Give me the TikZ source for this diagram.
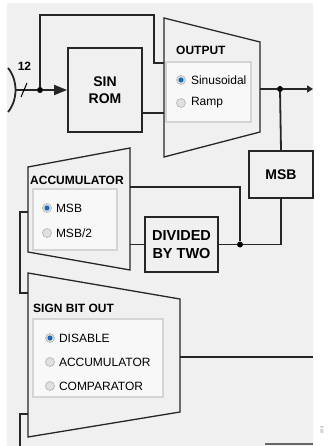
\documentclass[tikz,border=0pt]{standalone}
\usepackage{fontspec}
\setmainfont{Liberation Sans}
\usetikzlibrary{arrows.meta,positioning}
\definecolor{bggray}{RGB}{240,240,240}
\definecolor{panelfill}{RGB}{248,248,248}
\definecolor{paneledge}{RGB}{212,212,212}
\definecolor{radioblue}{RGB}{25,105,185}

\begin{document}
\begin{tikzpicture}[x=1pt,y=-1pt,
  font=\fontsize{12}{13}\selectfont,
  wire/.style={draw=black!85,line width=1.8pt},
  blk/.style={draw=black!85,line width=1.8pt,fill=bggray,align=center,inner sep=0pt,
              font=\bfseries\fontsize{14}{17}\selectfont},
  mux/.style={draw=black!85,line width=1.3pt,fill=bggray},
  panel/.style={draw=paneledge,line width=1.2pt,fill=panelfill},
  ttl/.style={anchor=west,inner sep=0pt,font=\bfseries\fontsize{12}{13}\selectfont},
  opt/.style={inner sep=0pt},
  radiooff/.style={circle,draw=black!30,line width=.6pt,fill=black!12,inner sep=0pt,minimum size=9pt},
  radioon/.style={radiooff,path picture={\fill[radioblue] (path picture bounding box.center) circle (2.6pt);}},
  dot/.style={circle,fill=black,inner sep=0pt,minimum size=6pt},
  arr/.style={wire,-{Triangle[length=13pt,width=10pt]}},
  oarr/.style={wire,-{Triangle[length=6pt,width=7pt]}}
]
\useasboundingbox (0,0) rectangle (328,446);
\fill[bggray] (7,3) rectangle (313,446);

\draw[wire] (8,68) .. controls (18,80) and (18,100) .. (8,112);
\coordinate (sum) at (16,90);
\node[blk,minimum width=74pt,minimum height=84pt] (rom) at (105,90) {SIN\\ROM};
\node[dot] (tap) at (40,90) {};
\draw[wire] (sum) -- (tap);
\draw[arr] (tap) -- (rom.west);
\draw[line width=1pt] (21,97) -- (27,83);
\node[font=\bfseries\fontsize{12}{12}\selectfont] (bw) at (24.5,66) {12};

\draw[mux] (164,18) -- (260,42) -- (260,132) -- (164,157) -- cycle;
\coordinate (outin1) at (164,63);
\coordinate (outin2) at (164,113);
\coordinate (outo) at (260,89);
\draw[panel] (166,62) rectangle (251,122);
\node[ttl] (outttl) at (176,50) {OUTPUT};
\node[radioon] (o1) at (181,80) {};
\node[opt,right=5pt of o1] {Sinusoidal};
\node[radiooff] (o2) at (181,103) {};
\node[opt,right=5pt of o2] {Ramp};
\draw[wire] (tap) -- (40,15) -- (154,15) -- (154,63) -- (outin1);
\draw[wire] (outin2 -| rom.east) -- (outin2);

\node[dot] (otap) at (280,89) {};
\coordinate (oend) at (313,89);
\draw[wire] (outo) -- (otap);
\draw[oarr] (otap) -- (oend);
\node[blk,minimum width=64pt,minimum height=47pt] (msb) at (281,174.5) {MSB};
\draw[wire] (otap) -- (msb.north);

\draw[mux] (28,167) -- (130,148) -- (130,270) -- (28,252) -- cycle;
\coordinate (accin1) at (130,187);
\coordinate (accout) at (28,212);
\draw[panel] (33,189) rectangle (117,250);
\node[ttl] (accttl) at (30,180) {ACCUMULATOR};
\node[radioon] (a1) at (47,208) {};
\node[opt,right=4pt of a1] {MSB};
\node[radiooff] (a2) at (47,233) {};
\node[opt,right=4pt of a2] {MSB/2};

\node[blk,minimum width=73pt,minimum height=55pt,font=\bfseries\fontsize{14.5}{18}\selectfont] (div) at (181.5,244.5) {DIVIDED\\BY TWO};
\node[dot] (dtap) at (240,244.5) {};
\draw[wire] (msb.south) |- (dtap);
\draw[wire] (dtap) -- (div.east);
\draw[wire] (dtap) |- (accin1);
\draw[wire] (div.west) -- (div.west -| accin1);

\draw[mux] (28,273) -- (180,299) -- (180,412) -- (28,437) -- cycle;
\coordinate (sgnin1) at (28,293);
\coordinate (sgnin2) at (28,414);
\coordinate (sgnout) at (180,357);
\draw[panel] (33,319) rectangle (163,397);
\node[ttl] (sgnttl) at (33,308) {SIGN BIT OUT};
\node[radioon] (s1) at (50,338) {};
\node[opt,right=4pt of s1] {DISABLE};
\node[radiooff] (s2) at (50,362) {};
\node[opt,right=4pt of s2] {ACCUMULATOR};
\node[radiooff] (s3) at (50,386) {};
\node[opt,right=4pt of s3] {COMPARATOR};

\coordinate (bot) at (20,446);
\coordinate (rend) at (313,357);
\draw[wire] (accout) -| (20,293) -- (sgnin1);
\draw[wire] (sgnin2) -- (20,414) -- (bot);
\draw[wire] (sgnout) -- (rend);

\draw[black!60,line width=1.5pt] (265,444) -- (313,444);
\node[rotate=90,text=black!50,font=\fontsize{4}{4}\selectfont] (fig) at (322,430) {058};
\end{tikzpicture}
\end{document}
